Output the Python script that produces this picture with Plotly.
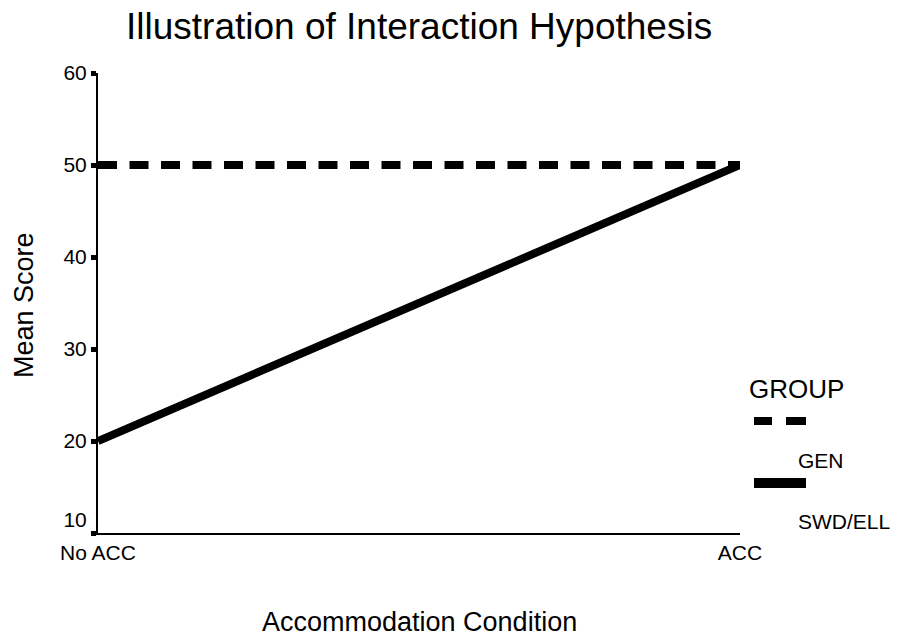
import plotly.graph_objects as go

# Data
conditions = ["No ACC", "ACC"]
cond_pos = [0, 1]
gen_scores = [50, 50]
swd_scores = [20, 50]
y_ticks = [10, 20, 30, 40, 50, 60]
y_tick_text = ["10<br>&nbsp;", "20", "30", "40", "50", "60"]
groups = ["GEN", "SWD/ELL"]

OFF = 8  # default page body margin
W, H = 900 - OFF, 639 - OFF
L, R, T, B = 98 - OFF, 160, 73 - OFF, 106
PW = W - L - R
PH = H - T - B


def px(x):
    # page pixel x -> paper coordinate
    return (x - OFF - L) / PW


def py(y):
    # page pixel y -> paper coordinate
    return (H + OFF - B - y) / PH


FONT = "Liberation Sans, Arial, sans-serif"

fig = go.Figure()
fig.add_trace(go.Scatter(x=cond_pos, y=gen_scores, mode="lines", name=groups[0],
                         line=dict(color="black", width=8, dash="19px,12.5px"),
                         showlegend=False))
fig.add_trace(go.Scatter(x=cond_pos, y=swd_scores, mode="lines", name=groups[1],
                         line=dict(color="black", width=8),
                         showlegend=False))

shapes = [
    # legend samples
    dict(type="line", xref="paper", yref="paper", x0=px(754), x1=px(772), y0=py(421), y1=py(421),
         line=dict(color="black", width=8)),
    dict(type="line", xref="paper", yref="paper", x0=px(786), x1=px(806), y0=py(421), y1=py(421),
         line=dict(color="black", width=8)),
    dict(type="line", xref="paper", yref="paper", x0=px(754), x1=px(806), y0=py(483), y1=py(483),
         line=dict(color="black", width=10)),
]

annotations = [
    dict(text="GROUP", xref="paper", yref="paper", x=px(747), y=py(389), xanchor="left", yanchor="middle",
         showarrow=False, font=dict(size=26, color="black", family=FONT)),
    dict(text=groups[0], xref="paper", yref="paper", x=px(796), y=py(460), xanchor="left", yanchor="middle",
         showarrow=False, font=dict(size=21, color="black", family=FONT)),
    dict(text=groups[1], xref="paper", yref="paper", x=px(796), y=py(521), xanchor="left", yanchor="middle",
         showarrow=False, font=dict(size=21, color="black", family=FONT)),
    dict(text="Accommodation Condition", xref="paper", yref="paper", x=0.5, y=py(622),
         xanchor="center", yanchor="middle", showarrow=False,
         font=dict(size=27, color="black", family=FONT)),
    dict(text="Mean Score", xref="paper", yref="paper", x=px(24), y=py(305),
         xanchor="center", yanchor="middle", textangle=-90, showarrow=False,
         font=dict(size=27, color="black", family=FONT)),
    dict(text="Illustration of Interaction Hypothesis", xref="paper", yref="paper", x=0.5, y=py(27),
         xanchor="center", yanchor="middle", showarrow=False,
         font=dict(size=37, color="black", family=FONT)),
]

fig.update_layout(
    width=W, height=H,
    margin=dict(l=L, r=R, t=T, b=B),
    paper_bgcolor="white", plot_bgcolor="white",
    font=dict(family=FONT, color="black"),
    shapes=shapes, annotations=annotations,
    xaxis=dict(range=[0, 1], tickvals=cond_pos, ticktext=conditions, showgrid=False, zeroline=False,
               showline=True, linecolor="black", linewidth=2, ticks="inside", ticklen=5, tickwidth=5,
               tickcolor="black", tickfont=dict(size=21, family=FONT, color="black")),
    yaxis=dict(range=[10, 60], tickvals=y_ticks, ticktext=y_tick_text, showgrid=False, zeroline=False,
               showline=True, linecolor="black", linewidth=2, ticks="outside", ticklen=5, tickwidth=5,
               tickcolor="black", tickfont=dict(size=21, family=FONT, color="black")),
)

fig.write_html("out.html")
